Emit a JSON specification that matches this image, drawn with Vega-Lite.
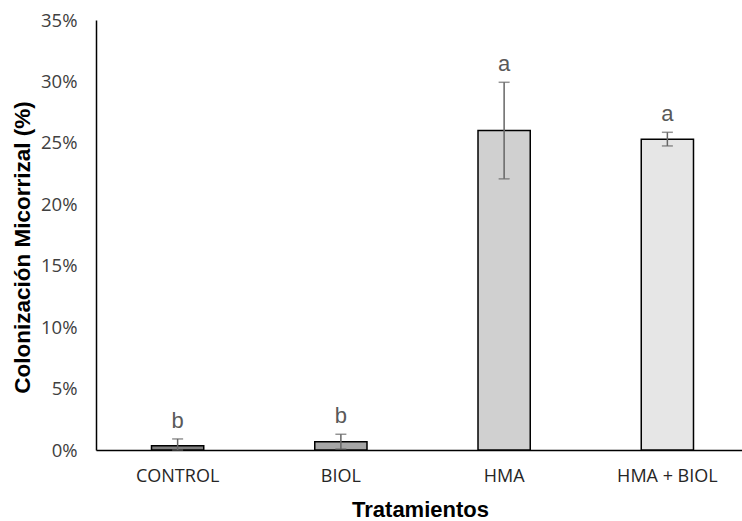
{
  "$schema": "https://vega.github.io/schema/vega-lite/v6.json",
  "autosize": "none",
  "width": 653,
  "height": 430,
  "padding": {"left": 96, "top": 20, "right": 0, "bottom": 71},
  "background": "white",
  "config": {"view": {"stroke": null}},
  "data": {"values": [
    {"t": "CONTROL", "v": 0.0035, "lo": 0.0, "hi": 0.009, "lab": "b", "c": "#7f7f7f"},
    {"t": "BIOL", "v": 0.0068, "lo": 0.0008, "hi": 0.0128, "lab": "b", "c": "#a6a6a6"},
    {"t": "HMA", "v": 0.26, "lo": 0.2207, "hi": 0.2993, "lab": "a", "c": "#d0d0d0"},
    {"t": "HMA + BIOL", "v": 0.253, "lo": 0.2475, "hi": 0.2586, "lab": "a", "c": "#e6e6e6"}
  ]},
  "encoding": {
    "x": {"field": "t", "type": "nominal", "sort": null,
      "scale": {"paddingInner": 0.68, "paddingOuter": 0.34},
      "axis": {"title": "Tratamientos", "labelAngle": 0, "ticks": false, "domainColor": "#000000", "domainWidth": 1.5,
        "labelFont": "Open Sans", "labelFontSize": 18, "labelColor": "#262626", "labelPadding": 17,
        "titleFont": "Liberation Sans", "titleFontSize": 22, "titleFontWeight": "bold", "titleColor": "#000000",
        "titleX": 324, "titleY": 66, "titleBaseline": "alphabetic"}}
  },
  "layer": [
    {"mark": {"type": "bar", "stroke": "#000000", "strokeWidth": 1.5},
     "encoding": {
       "y": {"field": "v", "type": "quantitative",
         "scale": {"domain": [0, 0.35], "nice": false},
         "axis": {"title": "Colonización Micorrizal (%)", "format": ".0%", "values": [0,0.05,0.1,0.15,0.2,0.25,0.3,0.35],
           "grid": false, "ticks": false, "domainColor": "#000000", "domainWidth": 1.5,
           "labelFont": "Open Sans", "labelFontSize": 18.5, "labelColor": "#404040", "labelPadding": 19,
           "titleFont": "Liberation Sans", "titleFontSize": 22.5, "titleFontWeight": "bold", "titleColor": "#000000",
           "titleX": -74, "titleY": 227, "titleAngle": -90, "titleBaseline": "middle", "titleAlign": "center"}},
       "fill": {"field": "c", "type": "nominal", "scale": null}
     }},
    {"mark": {"type": "rule", "color": "#666666", "strokeWidth": 1.5},
     "encoding": {"y": {"field": "lo", "type": "quantitative"}, "y2": {"field": "hi"}}},
    {"mark": {"type": "tick", "color": "#666666", "thickness": 1.5, "size": 11},
     "encoding": {"y": {"field": "hi", "type": "quantitative"}}},
    {"mark": {"type": "tick", "color": "#666666", "thickness": 1.5, "size": 11},
     "encoding": {"y": {"field": "lo", "type": "quantitative"}}},
    {"mark": {"type": "text", "font": "Liberation Sans", "fontSize": 22, "color": "#595959", "baseline": "bottom", "dy": -6},
     "encoding": {"y": {"field": "hi", "type": "quantitative"}, "text": {"field": "lab"}}}
  ]
}
